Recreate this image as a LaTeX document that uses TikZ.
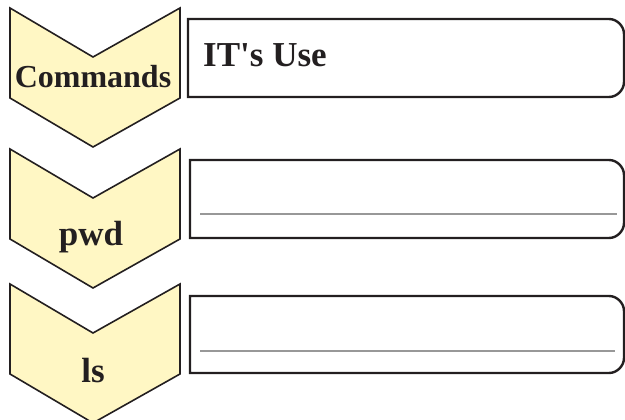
\documentclass[tikz,border=0pt]{standalone}
\usepackage{fontspec}
\setmainfont{Liberation Serif}
\usepackage{tikz}

\definecolor{chevfill}{RGB}{255,247,196}
\definecolor{inkline}{RGB}{35,31,32}
\definecolor{ruleline}{RGB}{152,152,152}

\begin{document}
\begin{tikzpicture}[x=1pt,y=-1pt,
        chevron/.style={draw=inkline,line width=1.6pt,fill=chevfill,line join=miter},
        usebox/.style={draw=inkline,line width=2.4pt},
        writeline/.style={draw=ruleline,line width=2.6pt},
        cmdtext/.style={anchor=base,inner sep=0pt,text=inkline,
            font=\fontsize{35}{40}\selectfont\bfseries}]
                \useasboundingbox (0,0) rectangle (625,420);
                % Draw the three chevrons
                \foreach \y in {8,149,284} {
                    \draw[chevron] (10,\y) -- (93,{\y+49}) -- (180,\y)
                        -- (180,{\y+90}) -- (93,{\y+139}) -- (10,{\y+90}) -- cycle;
                }
                % Draw the boxes with round right ends
                \foreach \t/\b/\l in {19/97/188,160/238/190,296/373/190} {
                    \draw[usebox] (624,{\t+15}) .. controls (624,{\t+7}) and (617,\t) .. (609,\t)
                        -- (\l,\t) -- (\l,\b) -- (609,\b)
                        .. controls (617,\b) and (624,{\b-7}) .. (624,{\b-15}) -- cycle;
                }
                % Draw the lines to write on
                \draw[writeline] (200,214) -- (617,214);
                \draw[writeline] (200,351) -- (615,351);
                % Labels
                \node[cmdtext,font=\fontsize{32}{40}\selectfont\bfseries] (commands) at (93,88) {Commands};
                \node[cmdtext,anchor=base west] (itsuse) at (203,67) {IT\textquotesingle s Use};
                \node[cmdtext] (pwd) at (91,245) {pwd};
                \node[cmdtext] (ls) at (93,382) {ls};
            \end{tikzpicture}
\end{document}
